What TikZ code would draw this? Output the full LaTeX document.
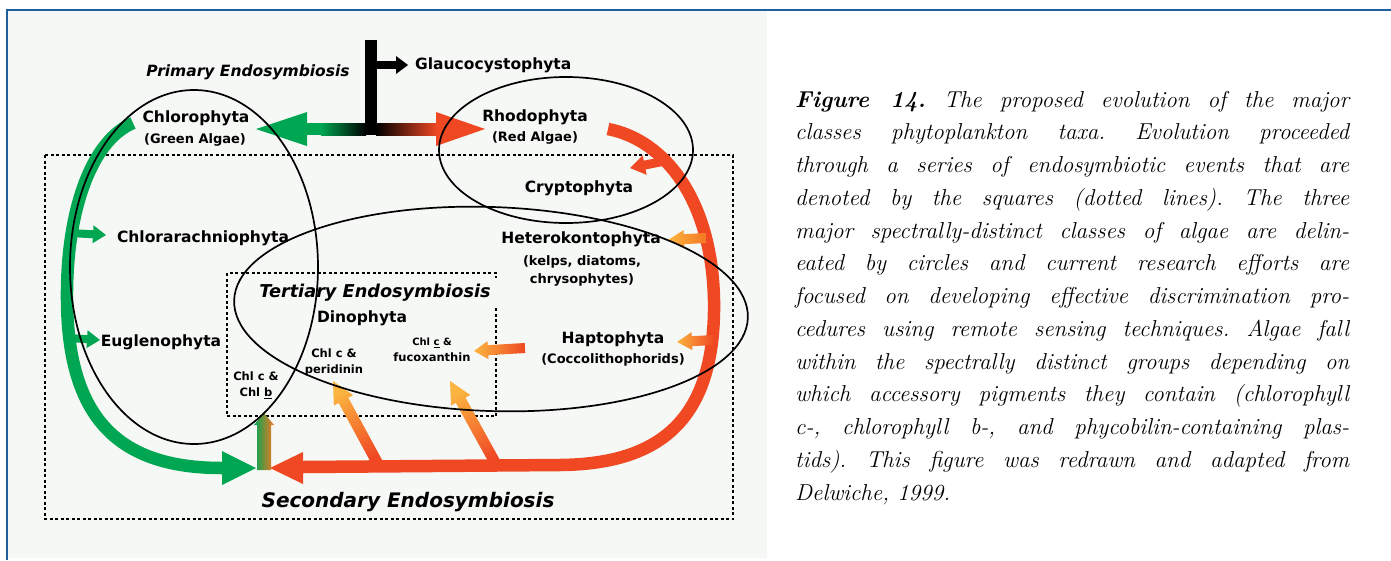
\documentclass[tikz,border=0pt]{standalone}
\usepackage{fontspec}
\newfontfamily\lab{DejaVu Sans}
\usetikzlibrary{calc}
\definecolor{grn}{RGB}{0,166,81}
\definecolor{rd}{RGB}{239,72,35}
\definecolor{org}{RGB}{245,120,35}
\definecolor{yel}{RGB}{251,180,64}
\definecolor{frameblue}{RGB}{30,95,160}
\definecolor{bgc}{RGB}{246,248,246}
% #1 path options, #2 tail, #3 tip, #4 half shaft, #5 half head, #6 head length
\newcommand\fatarrow[6]{%
  \coordinate (fa-b) at ($(#3)!#6!(#2)$);
  \path[#1] ($(#2)!#4!90:(#3)$) -- ($(fa-b)!#4!90:(#3)$) -- ($(fa-b)!#5!90:(#3)$)
    -- (#3) -- ($(fa-b)!#5!-90:(#3)$) -- ($(fa-b)!#4!-90:(#3)$) -- ($(#2)!#4!-90:(#3)$) -- cycle;}
\newcommand\capfont{\frenchspacing\itshape\fontsize{23}{32.75}\selectfont}
\newcommand\capline[2]{\node[anchor=base west, inner sep=0pt, font=\capfont] (cl#1) at (795,{107+32.75*(#1-1)}) {\makebox[554pt][s]{#2}};}
\begin{document}
\begin{tikzpicture}[x=1pt,y=-1pt,
  lbl/.style={font=\lab\bfseries\fontsize{15.5}{17}\selectfont, inner sep=0pt},
  sublbl/.style={font=\lab\bfseries\fontsize{13}{18}\selectfont, inner sep=0pt, align=center},
  tinylbl/.style={font=\lab\bfseries\fontsize{11.5}{16}\selectfont, inner sep=0pt, align=center},
  heading/.style={font=\lab\bfseries\itshape\fontsize{#1}{#1}\selectfont, inner sep=0pt},
  ring/.style={line width=1.7pt, draw=black},
  eventbox/.style={line width=2pt, dash pattern=on 3pt off 2.5pt},
  band/.style={line width=12.5pt, line cap=butt}]
\useasboundingbox (0,0) rectangle (1391,560);
\fill[white] (0,0) rectangle (1391,560);
\fill[bgc] (8,11) rectangle (767,558);
\draw[frameblue, line width=2pt] (7,560) -- (7,10) -- (1391,10);

% endosymbiosis boxes
\draw[eventbox] (45,155) rectangle (733,519);
\draw[eventbox] (496,308) -- (496,416) -- (227,416) -- (227,273) -- (496,273) -- (496,278);

% named anchor points
\coordinate (gtop) at (133,123);
\coordinate (gbase) at (222,468);
\coordinate (gtip) at (256,468);
\coordinate (rtop) at (608,129);
\coordinate (rbase) at (303,467);
\coordinate (rtip) at (270,468);

% green curve (Chlorophyta lineage)
\draw[band, grn] (gtop) .. controls (92,140) and (66,210) .. (67,300)
   .. controls (68,420) and (120,468) .. (gbase);
\fill[grn] (222,451) -- (gtip) -- (222,485) -- cycle;
\fatarrow{fill=grn}{70,233}{106,235}{4pt}{9pt}{13pt}
\fatarrow{fill=grn}{68,338}{100,340}{4pt}{9pt}{13pt}

% red curve (Rhodophyta lineage)
\draw[band, rd] (rtop) .. controls (665,140) and (712,200) .. (714,300)
   .. controls (716,420) and (660,464) .. (560,465) -- (rbase);
\fill[rd] (303,452) -- (rtip) -- (303,484) -- cycle;
\fatarrow{fill=rd}{670,160}{630,168}{4.5pt}{10pt}{15pt}
\fatarrow{shade, left color=yel, right color=org}{706,238}{668,240}{5pt}{9pt}{16pt}
\fatarrow{shade, left color=yel, right color=rd}{714,340}{677,342}{5pt}{9pt}{15pt}
\fatarrow{shade, left color=yel, right color=rd}{525,348}{474,351}{5pt}{9pt}{14pt}
\fatarrow{shade, top color=yel, bottom color=rd, shading angle=28.5}{378,464}{333,381}{5.5pt}{11pt}{22pt}
\fatarrow{shade, top color=yel, bottom color=rd, shading angle=28.5}{497,466}{450,381}{5.5pt}{11pt}{22pt}
\fatarrow{shade, left color=grn, right color=org}{264,470}{264,413}{7pt}{10pt}{12pt}

% primary endosymbiosis T-arrow
\fill[grn] (307,112) -- (256,129) -- (307,146) -- cycle;
\fill[grn] (306,123) rectangle (322,135);
\shade[left color=grn, right color=black] (321,123) rectangle (366,135);
\shade[left color=black, right color=rd] (376,123) rectangle (437,135);
\fill[rd] (436,112) -- (485,129) -- (436,146) -- cycle;
\fill[black] (365,40) rectangle (377,135);
\fill[black] (376,61) rectangle (397,69);
\fill[black] (396,56) -- (408,65) -- (396,74) -- cycle;

% spectral classes
\draw[ring] (194,267) ellipse [x radius=124pt, y radius=177pt];
\draw[ring] (566,150) ellipse [x radius=127pt, y radius=73pt];
\draw[ring, rotate around={-2:(491,309)}] (491,309) ellipse [x radius=257pt, y radius=102pt];

% labels
\node[heading=15.5] (prim) at (248,72) {Primary Endosymbiosis};
\node[lbl, anchor=west] (glauco) at (415,65) {Glaucocystophyta};
\node[lbl] (chloro) at (196,118) {Chlorophyta};
\node[sublbl] (greenalg) at (195,140) {(Green Algae)};
\node[lbl] (rhodo) at (535,117) {Rhodophyta};
\node[sublbl] (redalg) at (535,138) {(Red Algae)};
\node[lbl] (crypto) at (579,188) {Cryptophyta};
\node[lbl] (hetero) at (581,239) {Heterokontophyta};
\node[sublbl] (kelps) at (582,271) {(kelps, diatoms,\\chrysophytes)};
\node[lbl] (chlorar) at (203,238) {Chlorarachniophyta};
\node[lbl] (eugl) at (161,342) {Euglenophyta};
\node[heading=17.7] (tert) at (375,293) {Tertiary Endosymbiosis};
\node[lbl] (dino) at (362,318) {Dinophyta};
\node[tinylbl] (peri) at (334,362) {Chl c \&\\peridinin};
\node[tinylbl] (chlb) at (256,385) {Chl c \&\\Chl \underline{b}};
\node[tinylbl] (fuco) at (432,350) {{\fontsize{10}{16}\selectfont Chl \underline{c} \&}\\fucoxanthin};
\node[lbl] (hapto) at (613,339) {Haptophyta};
\node[sublbl] (cocco) at (613,360) {(Coccolithophorids)};
\node[heading=20] (second) at (408,502) {Secondary Endosymbiosis};

% caption
\capline{1}{\textbf{Figure 14.} The proposed evolution of the major}
\capline{2}{classes phytoplankton taxa. Evolution proceeded}
\capline{3}{through a series of endosymbiotic events that are}
\capline{4}{denoted by the squares (dotted lines). The three}
\capline{5}{major spectrally-distinct classes of algae are delin-}
\capline{6}{eated by circles and current research efforts are}
\capline{7}{focused on developing effective discrimination pro-}
\capline{8}{cedures using remote sensing techniques. Algae fall}
\capline{9}{within the spectrally distinct groups depending on}
\capline{10}{which accessory pigments they contain (chlorophyll}
\capline{11}{c-, chlorophyll b-, and phycobilin-containing plas-}
\capline{12}{tids). This figure was redrawn and adapted from}
\node[anchor=base west, inner sep=0pt, font=\capfont] (cl13) at (795,{107+32.75*12}) {Delwiche, 1999.};
\end{tikzpicture}
\end{document}
